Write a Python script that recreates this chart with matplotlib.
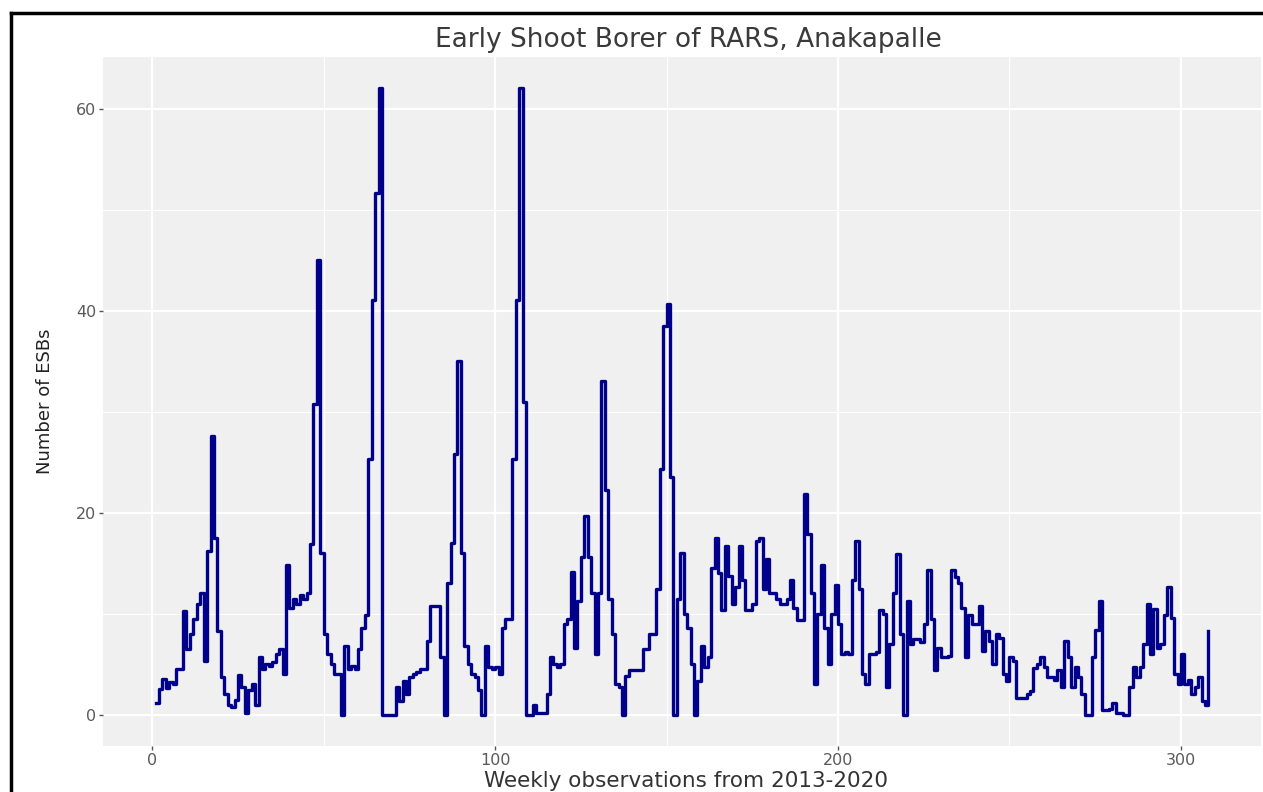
import matplotlib
matplotlib.use("Agg")
import matplotlib.pyplot as plt
from matplotlib.lines import Line2D
import numpy as np

# weekly ESB counts (week 1 .. 308)
esb_counts = [
    1.2, 2.5, 3.5, 2.6, 3.2, 3.0, 4.5, 4.5, 10.3, 6.5,
    8.0, 9.5, 11.0, 12.0, 5.3, 16.2, 27.6, 17.5, 8.3, 3.7,
    2.0, 1.0, 0.8, 1.5, 3.9, 2.7, 0.2, 2.4, 3.0, 1.0,
    5.7, 4.5, 5.0, 4.8, 5.2, 6.0, 6.5, 4.0, 14.8, 10.6,
    11.5, 11.0, 11.8, 11.5, 12.0, 16.9, 30.8, 45.0, 16.0, 8.0,
    6.0, 5.0, 4.0, 4.0, 0.0, 6.8, 4.5, 4.8, 4.5, 6.5,
    8.6, 9.9, 25.3, 41.0, 51.6, 62.0, 0.0, 0.0, 0.0, 0.0,
    2.7, 1.4, 3.3, 2.0, 3.7, 4.0, 4.2, 4.5, 4.5, 7.3,
    10.8, 10.8, 10.8, 5.7, 0.0, 13.0, 17.0, 25.8, 35.0, 16.0,
    6.8, 5.0, 4.0, 3.7, 2.4, 0.0, 6.8, 4.7, 4.5, 4.7,
    4.0, 8.6, 9.5, 9.5, 25.3, 41.0, 62.0, 31.0, 0.0, 0.0,
    1.0, 0.2, 0.2, 0.2, 2.0, 5.7, 5.0, 4.7, 5.0, 9.0,
    9.5, 14.1, 6.6, 11.3, 15.6, 19.7, 15.6, 12.0, 6.0, 12.0,
    33.0, 22.2, 11.5, 8.0, 3.0, 2.7, 0.0, 3.8, 4.4, 4.4,
    4.4, 4.4, 6.5, 6.5, 8.0, 8.0, 12.4, 24.3, 38.5, 40.7,
    23.5, 0.0, 11.5, 16.0, 10.0, 8.6, 5.0, 0.0, 3.3, 6.8,
    4.7, 5.7, 14.5, 17.5, 14.0, 10.4, 16.7, 13.7, 11.0, 12.6,
    16.7, 13.3, 10.4, 10.4, 11.0, 17.2, 17.5, 12.4, 15.4, 12.0,
    12.0, 11.5, 11.0, 11.0, 11.5, 13.3, 10.6, 9.4, 9.4, 21.8,
    17.9, 12.0, 3.0, 10.0, 14.8, 8.6, 5.0, 10.0, 12.8, 9.0,
    6.0, 6.2, 6.0, 13.3, 17.2, 12.4, 4.0, 3.0, 6.0, 6.0,
    6.2, 10.4, 10.0, 2.7, 7.0, 12.0, 15.9, 8.0, 0.0, 11.3,
    7.0, 7.5, 7.5, 7.2, 9.0, 14.3, 9.5, 4.4, 6.6, 5.7,
    5.7, 5.8, 14.3, 13.6, 13.0, 10.6, 5.7, 9.9, 9.0, 9.0,
    10.8, 6.3, 8.3, 7.3, 5.0, 8.0, 7.6, 4.0, 3.3, 5.7,
    5.3, 1.7, 1.7, 1.7, 2.0, 2.3, 4.6, 5.0, 5.7, 4.7,
    3.7, 3.7, 3.4, 4.4, 2.7, 7.3, 5.7, 2.7, 4.7, 3.7,
    2.0, 0.0, 0.0, 5.7, 8.4, 11.3, 0.5, 0.5, 0.6, 1.2,
    0.2, 0.2, 0.0, 0.0, 2.7, 4.7, 3.7, 4.7, 7.0, 11.0,
    6.0, 10.5, 6.6, 7.0, 9.9, 12.6, 9.6, 4.0, 3.0, 6.0,
    3.0, 3.4, 2.0, 2.7, 3.7, 1.4, 1.0, 8.3,
]
weeks = np.arange(1, len(esb_counts) + 1)

x_ticks = [0, 100, 200, 300]
y_ticks = [0, 20, 40, 60]

W, H = 1263, 792
fig = plt.figure(figsize=(W / 100, H / 100), dpi=100)
ax = fig.add_axes([103 / W, 1 - 746 / H, 1158 / W, (746 - 57) / H])

ax.set_facecolor('#f0f0f0')
ax.step(weeks, esb_counts, where='post', color='#00008B', lw=2.4, zorder=3)

# ggplot-like expansion of 5%
xr = weeks.max() - weeks.min()
ax.set_xlim(weeks.min() - 0.05 * xr, weeks.max() + 0.05 * xr)
ax.set_ylim(-0.05 * 62, 62 * 1.05)

ax.set_xticks(x_ticks)
ax.set_yticks(y_ticks)
ax.set_xticks([50, 150, 250], minor=True)
ax.set_yticks([10, 30, 50], minor=True)
ax.grid(which='major', color='white', lw=1.6, zorder=0)
ax.grid(which='minor', color='white', lw=0.8, zorder=0)
ax.set_axisbelow(True)
for s in ax.spines.values():
    s.set_visible(False)
ax.tick_params(which='major', length=3, width=1, color='#555555',
               labelcolor='#5a5a5a', labelsize=11.5, pad=2)
ax.tick_params(which='minor', length=0)

ax.set_ylabel('Number of ESBs', fontsize=13, color='#222222',
              family=['Liberation Sans Narrow', 'DejaVu Sans'], labelpad=16)
fig.text(686 / W, 1 - 781 / H, 'Weekly observations from 2013-2020',
         fontsize=15.5, color='#333333', ha='center', va='center')
fig.text(688 / W, 1 - 40 / H, 'Early Shoot Borer of RARS, Anakapalle',
         fontsize=19, color='#3a3a3a', ha='center', va='center')

# screenshot frame on the left and top
fig.add_artist(Line2D([11 / W, 11 / W], [0, 1 - 13 / H],
                      transform=fig.transFigure, color='black', lw=2.5))
fig.add_artist(Line2D([11 / W, 1], [1 - 13 / H, 1 - 13 / H],
                      transform=fig.transFigure, color='black', lw=2.5))

fig.savefig('out.png', dpi=100)
